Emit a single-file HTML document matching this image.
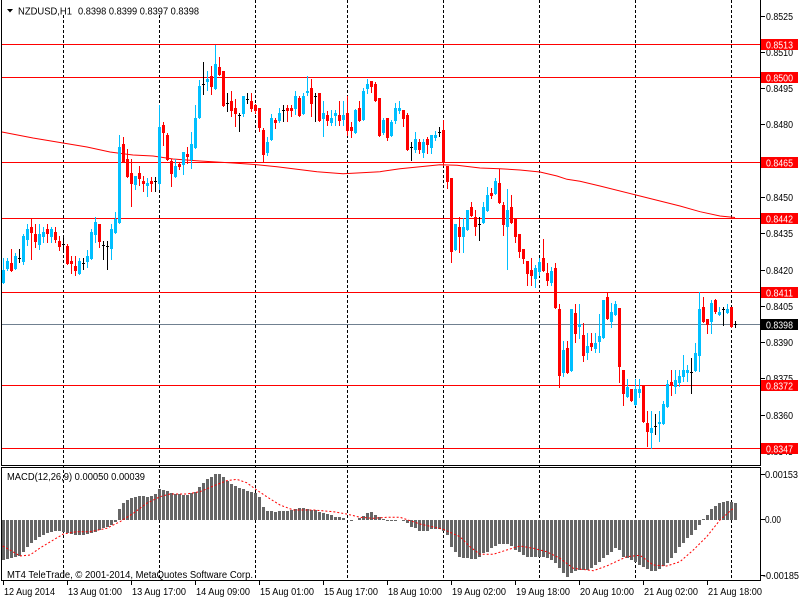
<!DOCTYPE html>
<html>
<head>
<meta charset="utf-8">
<style>
html,body{margin:0;padding:0;background:#fff;}
svg{display:block;}
text{font-family:"Liberation Sans",Arial,sans-serif;font-size:10px;fill:#000;}
</style>
</head>
<body>
<svg id="s" width="800" height="600" viewBox="0 0 800 600" xmlns="http://www.w3.org/2000/svg">
<rect x="0" y="0" width="800" height="600" fill="#fff"/>
<g id="grid" stroke="#000" stroke-width="1" stroke-dasharray="3,2" shape-rendering="crispEdges">
<line x1="63.5" y1="0" x2="63.5" y2="580"/>
<line x1="159.5" y1="0" x2="159.5" y2="580"/>
<line x1="255.5" y1="0" x2="255.5" y2="580"/>
<line x1="347.5" y1="0" x2="347.5" y2="580"/>
<line x1="443.5" y1="0" x2="443.5" y2="580"/>
<line x1="539.5" y1="0" x2="539.5" y2="580"/>
<line x1="635.5" y1="0" x2="635.5" y2="580"/>
<line x1="731.5" y1="0" x2="731.5" y2="580"/>
</g>
<g stroke="#FF0000" stroke-width="1" shape-rendering="crispEdges">
<line x1="2" y1="44.5" x2="760" y2="44.5"/>
<line x1="2" y1="77.5" x2="760" y2="77.5"/>
<line x1="2" y1="162.5" x2="760" y2="162.5"/>
<line x1="2" y1="218.5" x2="760" y2="218.5"/>
<line x1="2" y1="292.5" x2="760" y2="292.5"/>
<line x1="2" y1="385.5" x2="760" y2="385.5"/>
<line x1="2" y1="448.5" x2="760" y2="448.5"/>
</g>
<line x1="2" y1="324.5" x2="760" y2="324.5" stroke="#708090" stroke-width="1" shape-rendering="crispEdges"/>
<polyline fill="none" stroke="#FF0000" stroke-width="1" points="2,132 33,138 63,143 87,147 110,152 133,155 153,156 173,159 200,161 233,163 257,164.7 277,166.7 297,169.3 317,171.7 343,173.7 357,173 380,171.7 400,168.7 420,166.7 440,164.7 457,165.3 480,168 500,168.7 520,170 540,172 557,176 567,179.3 580,181.3 600,186 640,196 680,206 700,211.7 720,216 735,217.5"/>
<g id="candles" shape-rendering="crispEdges"></g>
<g id="hist" fill="#666666" shape-rendering="crispEdges"></g>
<polyline fill="none" stroke="#FF0000" stroke-width="1" stroke-dasharray="2,2" points="2.7,546 10,550 20,556 30,555 40,548 53.3,540 63.3,534 76.7,531.7 90,531.7 106.7,528.3 120,521.7 133.3,513.3 146.7,503.3 160,496.7 170,494 186.7,494 200,491.7 213.3,486 226.7,480.7 236.7,479.3 246.7,482.7 256.7,490 266.7,496.7 280,505 293.3,510 313.3,510 333.3,511.7 346.7,514 360,517.3 373.3,518.3 386.7,517.3 400,517.3 420,524 443.3,529.3 460,536.7 470,546.7 480,554.3 493.3,554.3 506.7,550 520,546 533.3,548.3 546.7,551.7 560,558.3 573.3,568.3 593.3,570.7 606.7,566 626.7,556.7 640,555.3 653.3,565 666.7,566 680,561.7 693.3,550 706.7,536.7 720,520 733.3,508.3"/>

<!-- frame -->
<g stroke="#000" stroke-width="1" shape-rendering="crispEdges" fill="none">
<line x1="1.5" y1="0" x2="1.5" y2="466"/>
<line x1="760.5" y1="0" x2="760.5" y2="466"/>
<line x1="1.5" y1="465.5" x2="760.5" y2="465.5"/>
<line x1="1.5" y1="467.5" x2="760.5" y2="467.5"/>
<line x1="1.5" y1="467" x2="1.5" y2="581"/>
<line x1="760.5" y1="467" x2="760.5" y2="581"/>
<line x1="1.5" y1="580.5" x2="760.5" y2="580.5"/>
</g>

<!-- header -->
<rect x="3" y="0" width="199" height="15" fill="#fff"/>
<polygon points="7,9 13,9 10,12.5" fill="#000"/>
<text x="18" y="14.5" textLength="54" lengthAdjust="spacingAndGlyphs">NZDUSD,H1</text>
<text x="78" y="14.5" textLength="121" lengthAdjust="spacingAndGlyphs">0.8398 0.8399 0.8397 0.8398</text>

<!-- price axis ticks & labels -->
<g stroke="#000" stroke-width="1" shape-rendering="crispEdges">
<line x1="761" y1="16.5" x2="765" y2="16.5"/>
<line x1="761" y1="52.5" x2="765" y2="52.5"/>
<line x1="761" y1="88.5" x2="765" y2="88.5"/>
<line x1="761" y1="124.5" x2="765" y2="124.5"/>
<line x1="761" y1="161.5" x2="765" y2="161.5"/>
<line x1="761" y1="197.5" x2="765" y2="197.5"/>
<line x1="761" y1="233.5" x2="765" y2="233.5"/>
<line x1="761" y1="270.5" x2="765" y2="270.5"/>
<line x1="761" y1="306.5" x2="765" y2="306.5"/>
<line x1="761" y1="342.5" x2="765" y2="342.5"/>
<line x1="761" y1="378.5" x2="765" y2="378.5"/>
<line x1="761" y1="415.5" x2="765" y2="415.5"/>
<line x1="761" y1="451.5" x2="765" y2="451.5"/>
<line x1="761" y1="474.5" x2="765" y2="474.5"/>
<line x1="761" y1="519.5" x2="765" y2="519.5"/>
<line x1="761" y1="575.5" x2="765" y2="575.5"/>
</g>
<g>
<text x="766" y="20" textLength="27" lengthAdjust="spacingAndGlyphs">0.8525</text>
<text x="766" y="56" textLength="27" lengthAdjust="spacingAndGlyphs">0.8510</text>
<text x="766" y="92" textLength="27" lengthAdjust="spacingAndGlyphs">0.8495</text>
<text x="766" y="128" textLength="27" lengthAdjust="spacingAndGlyphs">0.8480</text>
<text x="766" y="165" textLength="27" lengthAdjust="spacingAndGlyphs">0.8465</text>
<text x="766" y="201" textLength="27" lengthAdjust="spacingAndGlyphs">0.8450</text>
<text x="766" y="237" textLength="27" lengthAdjust="spacingAndGlyphs">0.8435</text>
<text x="766" y="274" textLength="27" lengthAdjust="spacingAndGlyphs">0.8420</text>
<text x="766" y="310" textLength="27" lengthAdjust="spacingAndGlyphs">0.8405</text>
<text x="766" y="346" textLength="27" lengthAdjust="spacingAndGlyphs">0.8390</text>
<text x="766" y="382" textLength="27" lengthAdjust="spacingAndGlyphs">0.8375</text>
<text x="766" y="419" textLength="27" lengthAdjust="spacingAndGlyphs">0.8360</text>
<text x="766" y="455" textLength="27" lengthAdjust="spacingAndGlyphs">0.8345</text>
</g>
<g shape-rendering="crispEdges">
<rect x="761" y="39" width="37" height="11" fill="#FF0000"/>
<rect x="761" y="72" width="37" height="11" fill="#FF0000"/>
<rect x="761" y="157" width="37" height="11" fill="#FF0000"/>
<rect x="761" y="213" width="37" height="11" fill="#FF0000"/>
<rect x="761" y="287" width="37" height="11" fill="#FF0000"/>
<rect x="761" y="319" width="37" height="11" fill="#000000"/>
<rect x="761" y="380" width="37" height="11" fill="#FF0000"/>
<rect x="761" y="443" width="37" height="11" fill="#FF0000"/>
</g>
<g style="fill:#fff">
<text x="766" y="48.5" textLength="27" lengthAdjust="spacingAndGlyphs" style="fill:#fff">0.8513</text>
<text x="766" y="81.5" textLength="27" lengthAdjust="spacingAndGlyphs" style="fill:#fff">0.8500</text>
<text x="766" y="166.5" textLength="27" lengthAdjust="spacingAndGlyphs" style="fill:#fff">0.8465</text>
<text x="766" y="222.5" textLength="27" lengthAdjust="spacingAndGlyphs" style="fill:#fff">0.8442</text>
<text x="766" y="296.5" textLength="27" lengthAdjust="spacingAndGlyphs" style="fill:#fff">0.8411</text>
<text x="766" y="328.5" textLength="27" lengthAdjust="spacingAndGlyphs" style="fill:#fff">0.8398</text>
<text x="766" y="389.5" textLength="27" lengthAdjust="spacingAndGlyphs" style="fill:#fff">0.8372</text>
<text x="766" y="452.5" textLength="27" lengthAdjust="spacingAndGlyphs" style="fill:#fff">0.8347</text>
</g>

<!-- MACD labels -->
<text x="7" y="480" textLength="138" lengthAdjust="spacingAndGlyphs">MACD(12,26,9) 0.00050 0.00039</text>
<text x="7" y="578" textLength="246" lengthAdjust="spacingAndGlyphs">MT4 TeleTrade, © 2001-2014, MetaQuotes Software Corp.</text>
<text x="765" y="478" textLength="33" lengthAdjust="spacingAndGlyphs">0.00153</text>
<text x="765" y="523" textLength="16" lengthAdjust="spacingAndGlyphs">0.00</text>
<text x="763" y="579" textLength="36" lengthAdjust="spacingAndGlyphs">-0.00185</text>

<!-- time axis -->
<g stroke="#000" stroke-width="1" shape-rendering="crispEdges">
<line x1="3.5" y1="581" x2="3.5" y2="585"/>
<line x1="67.5" y1="581" x2="67.5" y2="585"/>
<line x1="131.5" y1="581" x2="131.5" y2="585"/>
<line x1="195.5" y1="581" x2="195.5" y2="585"/>
<line x1="259.5" y1="581" x2="259.5" y2="585"/>
<line x1="323.5" y1="581" x2="323.5" y2="585"/>
<line x1="387.5" y1="581" x2="387.5" y2="585"/>
<line x1="451.5" y1="581" x2="451.5" y2="585"/>
<line x1="515.5" y1="581" x2="515.5" y2="585"/>
<line x1="579.5" y1="581" x2="579.5" y2="585"/>
<line x1="643.5" y1="581" x2="643.5" y2="585"/>
<line x1="707.5" y1="581" x2="707.5" y2="585"/>
</g>
<g>
<text x="4" y="595" textLength="51" lengthAdjust="spacingAndGlyphs">12 Aug 2014</text>
<text x="68" y="595" textLength="54" lengthAdjust="spacingAndGlyphs">13 Aug 01:00</text>
<text x="132" y="595" textLength="54" lengthAdjust="spacingAndGlyphs">13 Aug 17:00</text>
<text x="196" y="595" textLength="54" lengthAdjust="spacingAndGlyphs">14 Aug 09:00</text>
<text x="260" y="595" textLength="54" lengthAdjust="spacingAndGlyphs">15 Aug 01:00</text>
<text x="324" y="595" textLength="54" lengthAdjust="spacingAndGlyphs">15 Aug 17:00</text>
<text x="388" y="595" textLength="54" lengthAdjust="spacingAndGlyphs">18 Aug 10:00</text>
<text x="452" y="595" textLength="54" lengthAdjust="spacingAndGlyphs">19 Aug 02:00</text>
<text x="516" y="595" textLength="54" lengthAdjust="spacingAndGlyphs">19 Aug 18:00</text>
<text x="580" y="595" textLength="54" lengthAdjust="spacingAndGlyphs">20 Aug 10:00</text>
<text x="644" y="595" textLength="54" lengthAdjust="spacingAndGlyphs">21 Aug 02:00</text>
<text x="708" y="595" textLength="54" lengthAdjust="spacingAndGlyphs">21 Aug 18:00</text>
</g>
</svg>
<script>
(function(){
var D=[
[1,270,283,258,283],[1,261,269,258,270],[2,263,271,249,271],[1,256,269,253,269],[0,258,258,249,262],
[1,236,262,234,264],[1,229,240,224,245],[2,227,233,219,259],[2,234,242,224,247],[1,234,245,224,249],
[1,232,237,227,242],[2,229,234,224,242],[1,229,237,227,242],[2,232,240,227,242],[2,241,247,236,250],
[0,244,244,236,252],[2,246,264,244,264],[2,261,264,256,273],[2,266,271,256,275],[1,261,274,258,274],
[0,263,263,258,269],[1,256,262,250,267],[1,232,259,229,259],[1,222,235,217,242],[2,224,242,224,247],
[0,245,245,241,259],[0,246,246,241,269],[1,229,249,224,259],[1,219,233,212,233],[1,147,223,135,223],
[2,144,162,137,162],[2,159,177,149,177],[2,173,184,159,206],[1,176,185,176,189],[2,173,179,166,185],
[2,181,184,176,191],[1,183,186,178,196],[2,181,184,177,191],[0,181,181,177,191],[1,127,184,105,189],
[2,125,133,122,145],[2,135,160,133,160],[2,161,174,159,186],[1,166,177,159,177],[2,164,167,162,169],
[1,152,165,152,174],[2,154,157,147,163],[1,144,160,132,168],[1,118,148,105,148],[1,86,118,80,118],
[0,84,84,62,94],[1,79,82,71,90],[2,76,87,66,94],[1,64,89,45,89],[2,67,75,57,75],
[2,71,106,71,106],[0,103,103,93,111],[2,101,111,91,116],[2,108,114,99,126],[0,115,115,113,131],
[1,96,114,96,116],[0,99,99,93,103],[2,101,109,93,111],[2,105,111,104,113],[2,108,128,108,131],
[2,130,155,128,162],[1,142,153,137,155],[1,118,140,114,140],[2,120,123,118,128],[1,113,121,108,122],
[0,110,110,105,121],[2,108,111,105,121],[2,108,111,105,116],[1,96,109,91,114],[2,98,116,96,116],
[1,96,114,93,114],[1,91,93,76,95],[2,88,104,79,116],[0,96,96,93,121],[2,93,121,93,121],
[1,113,119,101,136],[2,115,121,111,125],[1,118,123,110,125],[1,113,116,110,125],[2,115,121,101,125],
[1,115,120,101,125],[2,113,131,96,135],[2,127,131,122,137],[1,110,133,109,133],[2,108,121,101,121],
[1,91,120,88,120],[1,84,89,79,93],[2,81,87,81,92],[2,84,101,82,101],[2,98,136,98,136],
[1,120,133,118,134],[2,118,138,118,140],[1,122,136,120,136],[1,108,121,103,123],[1,108,111,101,113],
[2,110,119,110,126],[2,115,150,113,150],[0,147,147,142,160],[1,139,150,132,152],[2,142,150,139,153],
[1,142,153,139,157],[2,139,145,137,153],[1,135,148,135,153],[1,135,138,131,140],[0,132,132,127,136],
[2,130,163,120,165],[2,166,182,166,188],[2,178,252,178,262],[1,224,250,224,250],[2,227,237,217,252],
[1,227,237,218,252],[1,210,230,210,230],[2,207,216,202,216],[2,217,227,210,235],[0,224,224,217,240],
[1,207,223,202,223],[1,195,211,187,211],[2,193,196,188,198],[1,181,194,178,194],[2,183,203,169,203],
[2,205,225,202,235],[1,210,227,189,269],[2,207,223,195,223],[2,219,237,219,242],[2,234,252,234,257],
[2,249,259,249,263],[2,261,274,261,285],[2,270,276,258,285],[1,268,279,265,287],[1,262,272,258,275],
[2,258,271,239,271],[2,273,281,263,285],[1,271,283,267,285],[2,268,308,263,308],[2,309,376,304,387],
[1,350,373,341,376],[2,348,373,341,373],[1,309,371,309,371],[2,313,334,304,342],[1,324,327,304,338],
[2,335,356,323,361],[1,346,353,333,359],[2,343,347,333,350],[1,343,349,333,352],[1,336,342,314,352],
[1,300,338,300,338],[2,297,319,293,319],[1,312,322,303,327],[1,304,315,301,315],[2,308,367,308,382],
[2,370,394,370,405],[1,387,397,379,397],[2,389,401,389,401],[1,389,405,379,405],[1,389,393,379,397],
[2,386,422,386,422],[2,423,432,411,446],[1,428,433,411,448],[0,426,426,414,434],[1,422,424,411,441],
[1,404,424,401,424],[1,384,407,380,407],[2,382,385,370,395],[1,380,387,370,393],[1,376,383,370,386],
[1,370,377,355,381],[1,370,373,365,381],[0,372,372,358,393],[1,353,371,343,371],[1,309,356,292,371],
[2,307,322,297,322],[2,319,325,319,333],[1,303,322,300,333],[2,300,312,299,313],[1,312,315,307,315],
[0,309,309,307,325],[1,309,313,304,313],[2,307,327,307,327],[0,324,324,321,327]
];
var H=[300,298,295,290,287,275,262,250,240,232,225,220,215,213,212,215,218,222,225,225,225,223,220,215,210,205,200,195,185,
148,128,120,115,110,108,108,110,108,103,88,90,94,98,103,103,105,105,100,95,80,68,58,50,42,42,50,62,72,78,85,88,92,95,100,
112,140,152,153,155,153,152,152,150,146,145,145,146,150,150,155,160,163,165,170,172,175,181,182,180,175,168,158,155,165,172,178,184,184,182,180,
184,190,200,205,212,212,212,208,206,208,212,225,260,275,290,295,295,297,297,290,280,275,265,258,252,252,252,258,270,275,285,290,290,290,290,292,295,300,310,325,340,350,340,333,330,330,330,325,315,305,295,285,275,265,270,290,295,300,305,315,320,328,332,332,328,318,308,295,278,260,250,235,225,210,195,178,165,148,138,130,126,124,126,130];
var cols=['#000000','#00BFFF','#FF0000'];
var s='';
for(var i=0;i<D.length;i++){
  var c=D[i],t=c[0],top=c[1],bot=c[2],hi=Math.min(c[3],top),lo=Math.max(c[4],bot);
  var col=cols[t],cx=3.5+4*i,x=2+4*i;
  s+='<rect x="'+(x+1)+'" y="'+hi+'" width="1" height="'+(lo-hi+1)+'" fill="'+col+'"/>';
  if(t===0){
    s+='<rect x="'+x+'" y="'+top+'" width="3" height="1" fill="'+col+'"/>';
  }else{
    s+='<rect x="'+x+'" y="'+top+'" width="3" height="'+Math.max(1,bot-top)+'" fill="'+col+'"/>';
  }
}
document.getElementById('candles').innerHTML=s;
var h='';
for(var j=0;j<H.length;j++){
  var y=460+H[j]/3,x2=2+4*j;
  var a=Math.round(Math.min(y,520)),b=Math.round(Math.max(y,520));
  if(b-a<1){continue;}
  h+='<rect x="'+x2+'" y="'+a+'" width="3" height="'+(b-a)+'"/>';
}
document.getElementById('hist').innerHTML=h;
})();
</script>
</body>
</html>
